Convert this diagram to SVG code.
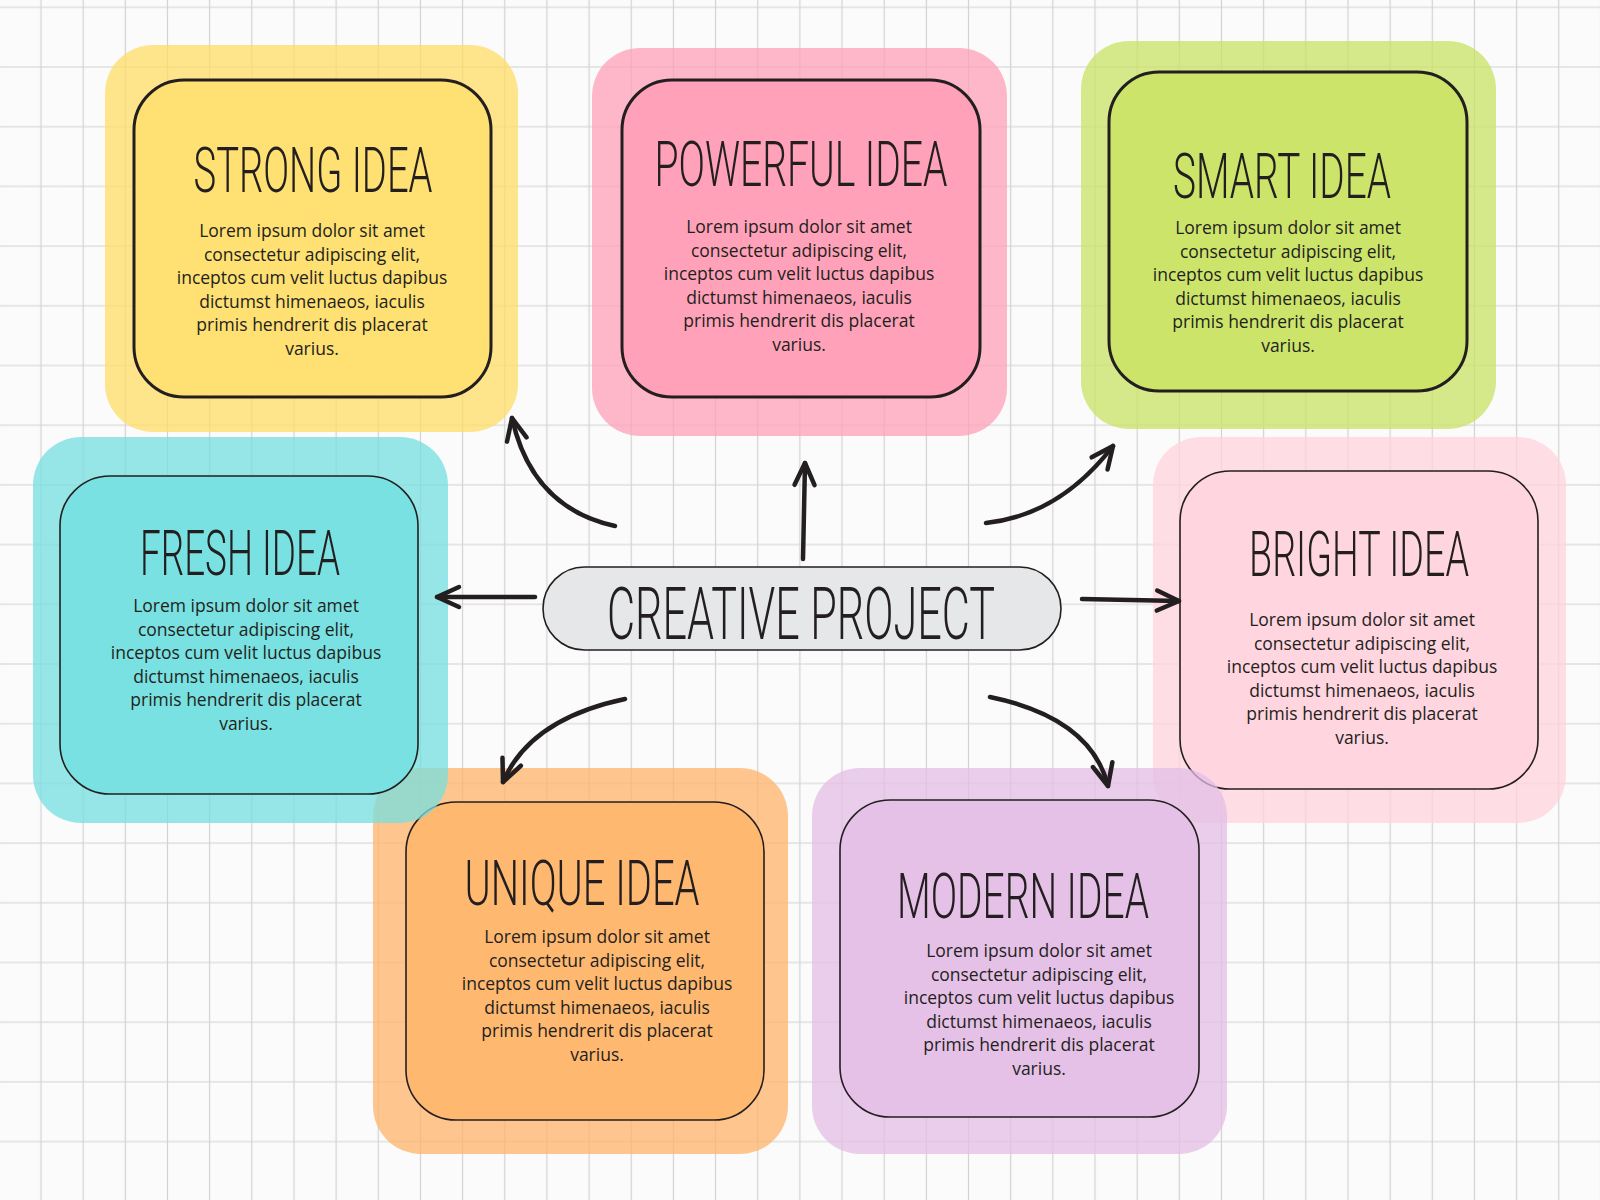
<svg xmlns="http://www.w3.org/2000/svg" width="1600" height="1200" viewBox="0 0 1600 1200">
<defs>
<pattern id="grid" x="19.92" y="37.15" width="42.16" height="59.7" patternUnits="userSpaceOnUse">
<path d="M21.08 0 V59.7 M0 29.85 H42.16" stroke="#d2d2d2" stroke-width="1.2" fill="none"/>
</pattern>
<marker id="ah" markerUnits="userSpaceOnUse" markerWidth="40" markerHeight="40" viewBox="-30 -20 40 40" refX="0" refY="0" orient="auto" overflow="visible">
<path d="M-22,-10 L0,0 L-22,10" fill="none" stroke="#231f20" stroke-width="4.5" stroke-linecap="round" stroke-linejoin="round"/>
</marker>
<style>
.outer{opacity:0.75}
.inner{stroke:#231f20;stroke-width:1.6}
.thick{stroke-width:3}
.title{font-family:Roboto,"Liberation Sans",sans-serif;font-weight:300;font-size:63px;fill:#231f20;text-anchor:middle}
.big{font-size:72px}
.body{font-family:"Open Sans","Liberation Sans",sans-serif;font-size:17.5px;fill:#231f20;text-anchor:middle}
.conn{fill:none;stroke:#231f20;stroke-width:4.5;stroke-linecap:round;marker-end:url(#ah)}
</style>
</defs>
<rect width="1600" height="1200" fill="#fbfbfb"/>
<rect width="1600" height="1200" fill="url(#grid)"/>

<g id="strong-idea">
<rect class="outer" x="105" y="45" width="413" height="387" rx="48" fill="#ffdc66"/>
<rect class="inner thick" x="134" y="80" width="357" height="317" rx="50" fill="#ffe072"/>
<text class="title" x="313" y="192" textLength="239" lengthAdjust="spacingAndGlyphs">STRONG IDEA</text>
<text class="body" x="312" y="237"><tspan x="312">Lorem ipsum dolor sit amet</tspan><tspan x="312" dy="23.6">consectetur adipiscing elit,</tspan><tspan x="312" dy="23.6">inceptos cum velit luctus dapibus</tspan><tspan x="312" dy="23.6">dictumst himenaeos, iaculis</tspan><tspan x="312" dy="23.6">primis hendrerit dis placerat</tspan><tspan x="312" dy="23.6">varius.</tspan></text>
</g>

<g id="powerful-idea">
<rect class="outer" x="592" y="48" width="415" height="388" rx="48" fill="#ffa0b8"/>
<rect class="inner thick" x="622" y="80" width="358" height="317" rx="50" fill="#ffa2b9"/>
<text class="title" x="801" y="186" textLength="293" lengthAdjust="spacingAndGlyphs">POWERFUL IDEA</text>
<text class="body" x="799" y="233"><tspan x="799">Lorem ipsum dolor sit amet</tspan><tspan x="799" dy="23.6">consectetur adipiscing elit,</tspan><tspan x="799" dy="23.6">inceptos cum velit luctus dapibus</tspan><tspan x="799" dy="23.6">dictumst himenaeos, iaculis</tspan><tspan x="799" dy="23.6">primis hendrerit dis placerat</tspan><tspan x="799" dy="23.6">varius.</tspan></text>
</g>

<g id="smart-idea">
<rect class="outer" x="1081" y="41" width="415" height="388" rx="48" fill="#c8e264"/>
<rect class="inner thick" x="1109" y="72" width="358" height="319" rx="50" fill="#cde46b"/>
<text class="title" x="1282" y="198" textLength="218" lengthAdjust="spacingAndGlyphs">SMART IDEA</text>
<text class="body" x="1288" y="234"><tspan x="1288">Lorem ipsum dolor sit amet</tspan><tspan x="1288" dy="23.6">consectetur adipiscing elit,</tspan><tspan x="1288" dy="23.6">inceptos cum velit luctus dapibus</tspan><tspan x="1288" dy="23.6">dictumst himenaeos, iaculis</tspan><tspan x="1288" dy="23.6">primis hendrerit dis placerat</tspan><tspan x="1288" dy="23.6">varius.</tspan></text>
</g>

<g id="unique-idea">
<rect class="outer" x="373" y="768" width="415" height="386" rx="48" fill="#ffb46a"/>
<rect class="inner" x="406" y="802" width="358" height="318" rx="50" fill="#ffb870"/>
<text class="title" x="582" y="905" textLength="235" lengthAdjust="spacingAndGlyphs">UNIQUE IDEA</text>
<text class="body" x="597" y="943"><tspan x="597">Lorem ipsum dolor sit amet</tspan><tspan x="597" dy="23.6">consectetur adipiscing elit,</tspan><tspan x="597" dy="23.6">inceptos cum velit luctus dapibus</tspan><tspan x="597" dy="23.6">dictumst himenaeos, iaculis</tspan><tspan x="597" dy="23.6">primis hendrerit dis placerat</tspan><tspan x="597" dy="23.6">varius.</tspan></text>
</g>

<g id="bright-idea">
<rect class="outer" x="1153" y="437" width="413" height="386" rx="48" fill="#ffd3de"/>
<rect class="inner" x="1180" y="471" width="358" height="318" rx="50" fill="#ffd5df"/>
<text class="title" x="1359" y="576" textLength="220" lengthAdjust="spacingAndGlyphs">BRIGHT IDEA</text>
<text class="body" x="1362" y="626"><tspan x="1362">Lorem ipsum dolor sit amet</tspan><tspan x="1362" dy="23.6">consectetur adipiscing elit,</tspan><tspan x="1362" dy="23.6">inceptos cum velit luctus dapibus</tspan><tspan x="1362" dy="23.6">dictumst himenaeos, iaculis</tspan><tspan x="1362" dy="23.6">primis hendrerit dis placerat</tspan><tspan x="1362" dy="23.6">varius.</tspan></text>
</g>

<g id="fresh-idea">
<rect class="outer" x="33" y="437" width="415" height="386" rx="48" fill="#76dfe0"/>
<rect class="inner" x="60" y="476" width="358" height="318" rx="50" fill="#79e1e1"/>
<text class="title" x="240" y="575" textLength="200" lengthAdjust="spacingAndGlyphs">FRESH IDEA</text>
<text class="body" x="246" y="612"><tspan x="246">Lorem ipsum dolor sit amet</tspan><tspan x="246" dy="23.6">consectetur adipiscing elit,</tspan><tspan x="246" dy="23.6">inceptos cum velit luctus dapibus</tspan><tspan x="246" dy="23.6">dictumst himenaeos, iaculis</tspan><tspan x="246" dy="23.6">primis hendrerit dis placerat</tspan><tspan x="246" dy="23.6">varius.</tspan></text>
</g>

<g id="modern-idea">
<rect class="outer" x="812" y="768" width="415" height="386" rx="48" fill="#e3bde5"/>
<rect class="inner" x="840" y="800" width="359" height="317" rx="50" fill="#e6c1e7"/>
<text class="title" x="1023" y="918" textLength="252" lengthAdjust="spacingAndGlyphs">MODERN IDEA</text>
<text class="body" x="1039" y="957"><tspan x="1039">Lorem ipsum dolor sit amet</tspan><tspan x="1039" dy="23.6">consectetur adipiscing elit,</tspan><tspan x="1039" dy="23.6">inceptos cum velit luctus dapibus</tspan><tspan x="1039" dy="23.6">dictumst himenaeos, iaculis</tspan><tspan x="1039" dy="23.6">primis hendrerit dis placerat</tspan><tspan x="1039" dy="23.6">varius.</tspan></text>
</g>

<g id="creative-project">
<rect x="543" y="567" width="518" height="83" rx="41.5" fill="#e6e7e9" stroke="#231f20" stroke-width="1.6"/>
<text class="title big" x="801" y="639" textLength="388" lengthAdjust="spacingAndGlyphs">CREATIVE PROJECT</text>
</g>

<g id="connectors">
<path class="conn" d="M615 526 Q532 508 512 418"/>
<path class="conn" d="M803 559 L805 463"/>
<path class="conn" d="M986 523 Q1060 515 1113 446"/>
<path class="conn" d="M535 597 L437 597"/>
<path class="conn" d="M1082 599 L1179 601"/>
<path class="conn" d="M625 699 Q530 719 503 782"/>
<path class="conn" d="M990 697 Q1091 718 1108 786"/>
</g>
</svg>
